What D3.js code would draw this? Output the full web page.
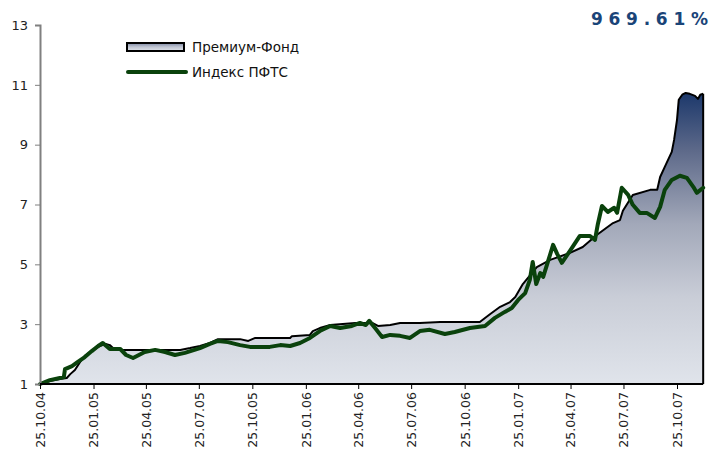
<!DOCTYPE html>
<html><head><meta charset="utf-8">
<script src="https://cdn.jsdelivr.net/npm/d3@7"></script>
<style>body{margin:0;background:#fff}svg{display:block}text{font-family:"DejaVu Sans",Verdana,sans-serif}</style>
</head><body>
<svg id="c" width="711" height="452"></svg>
<script>
const fundDates = ["2004-10-25","2004-11-11","2004-11-28","2004-12-10","2004-12-16","2004-12-24","2005-01-02","2005-01-10","2005-01-22","2005-02-05","2005-02-15","2005-02-22","2005-03-03","2005-05-02","2005-06-23","2005-07-10","2005-07-27","2005-08-13","2005-08-27","2005-10-04","2005-10-18","2005-10-30","2005-12-29","2006-01-01","2006-02-01","2006-02-06","2006-02-18","2006-03-08","2006-04-20","2006-05-19","2006-05-29","2006-06-19","2006-07-06","2006-08-09","2006-09-13","2006-11-20","2006-12-08","2006-12-25","2007-01-11","2007-01-20","2007-02-02","2007-02-26","2007-03-21","2007-04-24","2007-05-16","2007-06-09","2007-07-07","2007-07-19","2007-07-24","2007-08-10","2007-09-09","2007-09-21","2007-09-26","2007-10-04","2007-10-16","2007-10-20","2007-10-25","2007-10-28","2007-11-03","2007-11-09","2007-11-16","2007-11-25","2007-11-30","2007-12-04","2007-12-09"];
const fundValues = [1.00,1.10,1.17,1.20,1.33,1.47,1.74,1.94,2.10,2.27,2.34,2.30,2.14,2.14,2.14,2.20,2.27,2.37,2.50,2.50,2.44,2.54,2.54,2.60,2.64,2.77,2.87,2.97,3.04,3.04,2.94,2.97,3.04,3.04,3.07,3.07,3.34,3.58,3.74,3.91,4.34,4.91,5.15,5.38,5.58,5.98,6.38,6.48,6.79,7.32,7.49,7.49,7.92,8.26,8.76,9.16,9.83,10.50,10.67,10.73,10.70,10.63,10.53,10.67,10.70];
const indexDates = ["2004-10-25","2004-11-11","2004-11-28","2004-12-05","2004-12-07","2004-12-19","2004-12-29","2005-01-10","2005-01-22","2005-02-02","2005-02-10","2005-02-22","2005-03-12","2005-03-22","2005-04-03","2005-04-23","2005-05-11","2005-05-28","2005-06-14","2005-07-01","2005-07-27","2005-08-13","2005-08-27","2005-09-13","2005-10-04","2005-10-21","2005-11-24","2005-12-12","2005-12-29","2006-01-15","2006-02-01","2006-02-18","2006-03-08","2006-03-25","2006-04-14","2006-04-28","2006-05-08","2006-05-14","2006-05-24","2006-06-05","2006-06-19","2006-07-06","2006-07-23","2006-08-09","2006-08-26","2006-09-21","2006-10-08","2006-11-03","2006-11-29","2006-12-16","2007-01-02","2007-01-14","2007-01-25","2007-02-06","2007-02-14","2007-02-19","2007-02-25","2007-03-04","2007-03-09","2007-03-17","2007-03-26","2007-04-02","2007-04-10","2007-04-24","2007-05-11","2007-05-28","2007-06-06","2007-06-11","2007-06-18","2007-06-28","2007-07-09","2007-07-14","2007-07-22","2007-08-02","2007-08-10","2007-08-22","2007-09-03","2007-09-17","2007-09-26","2007-10-04","2007-10-16","2007-10-30","2007-11-11","2007-11-22","2007-11-28","2007-12-09"];
const indexValues = [1.00,1.13,1.20,1.23,1.50,1.60,1.74,1.90,2.10,2.27,2.37,2.17,2.17,1.97,1.87,2.07,2.14,2.07,1.97,2.04,2.20,2.34,2.44,2.40,2.30,2.24,2.24,2.30,2.27,2.37,2.54,2.77,2.94,2.87,2.94,3.04,2.97,3.11,2.87,2.57,2.64,2.61,2.54,2.77,2.81,2.67,2.74,2.87,2.94,3.21,3.41,3.54,3.81,4.04,4.48,5.08,4.34,4.71,4.58,5.08,5.65,5.35,5.05,5.45,5.95,5.95,5.82,6.35,6.95,6.75,6.89,6.72,7.56,7.32,6.99,6.72,6.72,6.55,6.92,7.49,7.82,7.96,7.89,7.59,7.39,7.56];
const tickDates = ["2004-10-25","2005-01-25","2005-04-25","2005-07-25","2005-10-25","2006-01-25","2006-04-25","2006-07-25","2006-10-25","2007-01-25","2007-04-25","2007-07-25","2007-10-25"];
const yTicks = [1,3,5,7,9,11,13];
const seriesNames = ["Премиум-Фонд","Индекс ПФТС"];
const totalReturn = "969.61%";

const parse = d3.timeParse("%Y-%m-%d");
const fmt = d3.timeFormat("%d.%m.%y");
const fund = fundDates.map((d,i)=>({date:parse(d),v:fundValues[i]}));
const idx = indexDates.map((d,i)=>({date:parse(d),v:indexValues[i]}));

const svg = d3.select("#c");
const x = d3.scaleTime().domain([parse("2004-10-25"), parse("2007-10-25")]).range([40,677]);
const y = d3.scaleLinear().domain([1,13]).range([384,25]);

const defs = svg.append("defs");
const grad = defs.append("linearGradient").attr("id","g").attr("gradientUnits","userSpaceOnUse")
  .attr("x1",0).attr("x2",0).attr("y1",y(1)).attr("y2",y(d3.max(fundValues)));
[[0,"#e0e4eb"],[0.3,"#c9cdd7"],[0.55,"#a2a8b9"],[0.8,"#5e6a8a"],[1,"#1c386b"]].forEach(s=>grad.append("stop").attr("offset",s[0]).attr("stop-color",s[1]));
const lg = defs.append("linearGradient").attr("id","lg").attr("x1",0).attr("x2",0).attr("y1",0).attr("y2",1);
[[0,"#7d87a3"],[0.5,"#c0c5d2"],[1,"#e0e4eb"]].forEach(s=>lg.append("stop").attr("offset",s[0]).attr("stop-color",s[1]));

// area
const area = d3.area().x(d=>x(d.date)).y0(y(1)).y1(d=>y(d.v));
svg.append("path").datum(fund).attr("d",area).attr("fill","url(#g)");
const last = fund[fund.length-1];
svg.append("path").datum(fund).attr("d",d3.line().x(d=>x(d.date)).y(d=>y(d.v))).attr("fill","none").attr("stroke","#000").attr("stroke-width",2).attr("stroke-linejoin","round");
svg.append("line").attr("x1",x(last.date)).attr("x2",x(last.date)).attr("y1",y(last.v)).attr("y2",y(1)).attr("stroke","#000").attr("stroke-width",2);

// index line
svg.append("path").datum(idx).attr("d",d3.line().x(d=>x(d.date)).y(d=>y(d.v))).attr("fill","none").attr("stroke","#0a420c").attr("stroke-width",4).attr("stroke-linejoin","round").attr("stroke-linecap","round");

// y axis
const ya = svg.append("g").attr("transform","translate(40,0)").call(d3.axisLeft(y).tickValues(yTicks).tickSize(5).tickPadding(7).tickFormat(d3.format("d")));
ya.select(".domain").attr("stroke","#808080").attr("stroke-width",2);
ya.selectAll(".tick line").attr("stroke","#808080");
ya.selectAll("text").attr("font-size",13).attr("fill","#222").attr("font-family","DejaVu Sans");

// x axis
const xa = svg.append("g").attr("transform","translate(0,384)").call(d3.axisBottom(x).tickValues(tickDates.map(parse)).tickSize(5).tickFormat(fmt));
xa.select(".domain").attr("d",`M40,0H${x(last.date)}`).attr("stroke","#000").attr("stroke-width",2);
xa.selectAll(".tick line").attr("stroke","#000");
xa.selectAll("text").attr("font-size",12.5).attr("fill","#222").attr("font-family","DejaVu Sans")
  .attr("transform","rotate(-90)").attr("text-anchor","end").attr("x",-8).attr("y",0).attr("dy","0.35em");

// legend
svg.append("rect").attr("x",127).attr("y",43).attr("width",57).attr("height",8).attr("fill","url(#lg)").attr("stroke","#000").attr("stroke-width",2);
svg.append("text").attr("x",192).attr("y",52).attr("font-size",13.5).attr("fill","#111").text(seriesNames[0]);
svg.append("line").attr("x1",128).attr("x2",186).attr("y1",72).attr("y2",72).attr("stroke","#0a420c").attr("stroke-width",4).attr("stroke-linecap","round");
svg.append("text").attr("x",192).attr("y",77).attr("font-size",13.5).attr("fill","#111").text(seriesNames[1]);

// total return
svg.append("text").attr("x",591).attr("y",25).attr("font-size",17).attr("font-weight","bold").attr("fill","#1a4478")
  .attr("textLength",117).attr("lengthAdjust","spacing").text(totalReturn);
</script>
</body></html>
